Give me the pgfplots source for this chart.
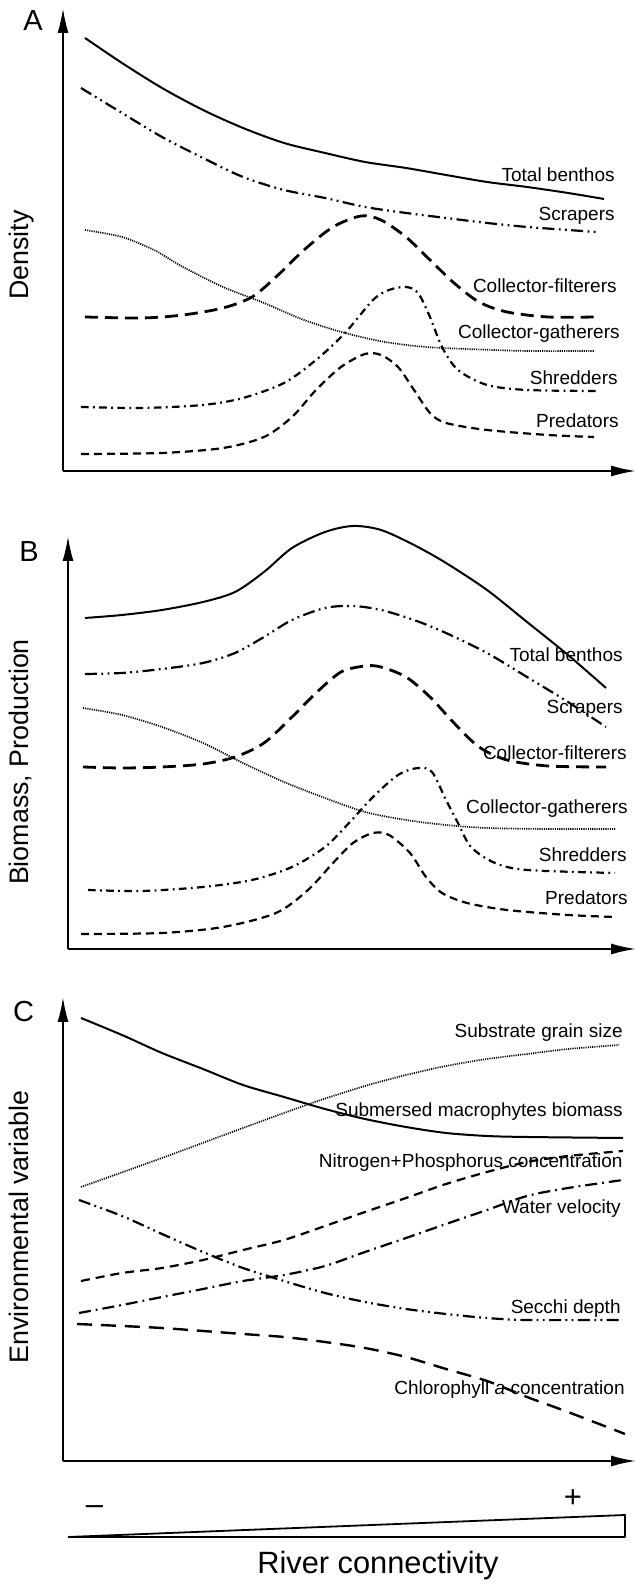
\documentclass[border=0pt]{standalone}
\usepackage{fontspec}
\setmainfont{Liberation Sans}
\usepackage{pgfplots}
\pgfplotsset{compat=1.18}
\usetikzlibrary{arrows.meta}
\pgfplotsset{
  panel/.style={x=0.5pt, y=0.5pt, axis lines=left, xtick=\empty, ytick=\empty,
    clip=false, anchor=south west,
    axis line style={line width=1pt, -{Latex[length=12.5pt,width=5.5pt]}}},
  solidc/.style={black, line width=1pt, smooth, no markers},
  ddot/.style={black, line width=1.1pt, smooth, no markers, dash pattern=on 6pt off 2.2pt on 0.9pt off 2.2pt on 0.9pt off 2.2pt},
  longd/.style={black, line width=1.4pt, smooth, no markers, dash pattern=on 6.5pt off 3.5pt},
  dotc/.style={black, line width=0.85pt, smooth, no markers, dash pattern=on 0.55pt off 0.55pt},
  dashdot/.style={black, line width=1.1pt, smooth, no markers, dash pattern=on 3.8pt off 2.2pt on 0.9pt off 2.2pt},
  shortd/.style={black, line width=1.1pt, smooth, no markers, dash pattern=on 4pt off 2.5pt},
  meddash/.style={black, line width=1.1pt, smooth, no markers, dash pattern=on 4.5pt off 3pt},
  wdashdot/.style={black, line width=1.1pt, smooth, no markers, dash pattern=on 6pt off 2.5pt on 0.9pt off 2.5pt},
  chl/.style={black, line width=1.2pt, smooth, no markers, dash pattern=on 7.5pt off 4.5pt},
}
\tikzset{
  lab/.style={anchor=east, inner sep=0pt, font=\fontsize{9.5}{11}\selectfont},
  ttl/.style={rotate=90, inner sep=0pt, font=\fontsize{13.4}{15}\selectfont},
  let/.style={inner sep=0pt, font=\fontsize{14.5}{16}\selectfont},
}
\begin{document}
\begin{tikzpicture}
\useasboundingbox (0,0) rectangle (318pt,791.5pt);
% ---------------- Panel A ----------------
\begin{axis}[panel, at={(31.5pt,556pt)}, xmin=63, xmax=636, ymin=1112, ymax=1575]
\addplot[solidc] coordinates {(85,1545) (122,1520) (162,1495) (203,1473) (243,1455) (284,1440) (325,1430) (365,1421) (406,1415) (446,1408) (487,1401) (527,1396) (568,1390) (604,1384)};
\addplot[ddot] coordinates {(81,1495) (122,1470) (162,1446) (203,1425) (243,1406) (284,1393) (325,1385) (365,1376) (406,1370) (446,1365) (487,1360) (527,1356) (568,1353) (596,1351)};
\addplot[longd] coordinates {(85,1266) (142,1265) (183,1268) (223,1275) (252,1286) (276,1306) (304,1333) (333,1356) (361,1367) (381,1363) (406,1346) (430,1323) (454,1300) (479,1281) (507,1271) (548,1266) (596,1266)};
\addplot[dotc] coordinates {(85,1353) (122,1346) (154,1333) (183,1316) (223,1296) (264,1280) (304,1263) (345,1250) (385,1241) (426,1236) (467,1234) (527,1232) (594,1232)};
\addplot[dashdot] coordinates {(81,1176) (142,1175) (203,1178) (243,1185) (284,1200) (316,1223) (345,1250) (373,1283) (389,1293) (406,1296) (418,1290) (430,1266) (442,1236) (458,1213) (487,1198) (527,1193) (596,1192)};
\addplot[shortd] coordinates {(81,1129) (162,1130) (223,1135) (264,1146) (292,1166) (316,1193) (341,1216) (365,1229) (381,1228) (398,1216) (414,1193) (430,1170) (446,1160) (487,1153) (548,1148) (594,1146)};
\node[lab] at (axis cs:615,1408) {Total benthos};
\node[lab] at (axis cs:615,1367) {Scrapers};
\node[lab] at (axis cs:617,1297) {Collector-filterers};
\node[lab] at (axis cs:620,1249) {Collector-gatherers};
\node[lab] at (axis cs:618,1205) {Shredders};
\node[lab] at (axis cs:619,1162) {Predators};
\node[ttl] at (axis cs:22,1328) {Density};
\node[let] at (axis cs:33,1562) {A};
\end{axis}
% ---------------- Panel B ----------------
\begin{axis}[panel, at={(34pt,317pt)}, xmin=68, xmax=636, ymin=634, ymax=1047]
\addplot[solidc] coordinates {(85,965) (122,968) (162,973) (203,981) (235,991) (264,1011) (292,1035) (325,1051) (353,1057) (381,1053) (414,1038) (446,1020) (487,993) (527,961) (568,928) (606,895)};
\addplot[ddot] coordinates {(85,909) (122,910) (162,914) (203,920) (235,930) (264,946) (292,963) (325,975) (353,977) (381,973) (414,963) (446,950) (487,930) (527,906) (568,881) (606,856)};
\addplot[longd] coordinates {(83,816) (122,815) (162,816) (203,819) (235,826) (264,840) (292,866) (316,890) (341,911) (365,917) (381,916) (406,906) (430,886) (454,860) (479,836) (507,823) (548,817) (606,816)};
\addplot[dotc] coordinates {(83,875) (122,868) (162,856) (203,840) (243,820) (284,801) (325,785) (365,771) (406,763) (446,758) (487,755) (548,754) (615,754)};
\addplot[dashdot] coordinates {(88,693) (142,692) (203,696) (252,703) (292,716) (325,736) (349,760) (373,786) (398,808) (418,815) (432,811) (446,783) (458,760) (471,736) (495,720) (527,713) (615,710)};
\addplot[shortd] coordinates {(81,649) (162,650) (223,656) (276,670) (308,693) (333,720) (353,740) (373,750) (389,748) (410,730) (426,706) (442,690) (467,680) (507,673) (568,668) (615,666)};
\node[lab] at (axis cs:623,928) {Total benthos};
\node[lab] at (axis cs:623,874) {Scrapers};
\node[lab] at (axis cs:627,830) {Collector-filterers};
\node[lab] at (axis cs:628,774) {Collector-gatherers};
\node[lab] at (axis cs:627,728) {Shredders};
\node[lab] at (axis cs:628,685) {Predators};
\node[ttl] at (axis cs:21,821) {Biomass, Production};
\node[let] at (axis cs:29,1031) {B};
\end{axis}
% ---------------- Panel C ----------------
\begin{axis}[panel, at={(31.5pt,61pt)}, xmin=63, xmax=636, ymin=122, ymax=586]
\addplot[solidc] coordinates {(81,565) (122,548) (162,530) (203,514) (243,498) (284,486) (325,474) (365,464) (406,456) (446,450) (487,447) (527,446) (623,445)};
\addplot[dotc] coordinates {(81,396) (162,425) (243,455) (312,480) (365,497) (406,508) (446,517) (487,524) (527,529) (568,534) (619,538)};
\addplot[meddash] coordinates {(81,302) (122,310) (162,315) (203,323) (243,333) (284,343) (325,357) (365,371) (406,385) (446,399) (487,411) (527,421) (568,427) (623,432)};
\addplot[wdashdot] coordinates {(79,270) (122,278) (162,286) (203,294) (243,302) (284,308) (325,317) (365,331) (406,345) (446,359) (487,373) (527,387) (568,395) (623,403)};
\addplot[ddot] coordinates {(79,383) (122,367) (162,349) (203,331) (243,315) (284,302) (325,290) (365,281) (406,274) (446,269) (487,265) (527,263) (621,263)};
\addplot[chl] coordinates {(77,259) (122,257) (162,255) (203,252) (243,249) (284,246) (325,241) (365,235) (406,226) (446,214) (487,202) (527,186) (568,171) (625,149)};
\node[lab] at (axis cs:623,550) {Substrate grain size};
\node[lab] at (axis cs:623,471) {Submersed macrophytes biomass};
\node[lab] at (axis cs:623,420) {Nitrogen+Phosphorus concentration};
\node[lab] at (axis cs:621,374) {Water velocity};
\node[lab] at (axis cs:621,274) {Secchi depth};
\node[lab] at (axis cs:625,193) {Chlorophyll \textit{a} concentration};
\node[ttl] at (axis cs:19,356) {Environmental variable};
\node[let] at (axis cs:23.5,571) {C};
% connectivity wedge
\addplot[black, line width=0.9pt, line join=round, sharp plot, no markers] coordinates {(68,46) (625,46) (625,68) (68,46)};
\node[anchor=base, inner sep=0pt, font=\fontsize{15.5}{17}\selectfont] at (axis cs:94.5,68) {–};
\node[anchor=base, inner sep=0pt, font=\fontsize{15.5}{17}\selectfont] at (axis cs:573,75) {+};
\node[anchor=base, inner sep=0pt, font=\fontsize{15.4}{17}\selectfont] at (axis cs:378,10) {River connectivity};
\end{axis}
\end{tikzpicture}
\end{document}
